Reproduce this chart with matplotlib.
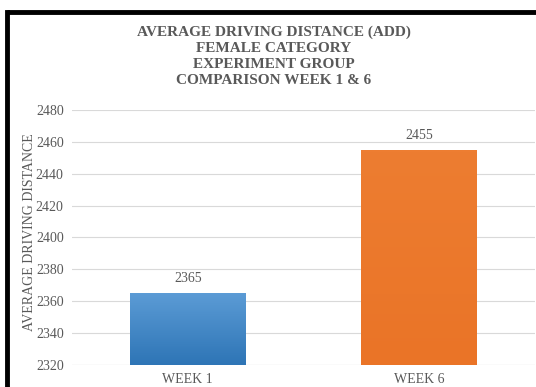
import matplotlib
matplotlib.use("Agg")
import matplotlib.pyplot as plt
import numpy as np
from matplotlib.lines import Line2D
from matplotlib.colors import LinearSegmentedColormap

categories = ["WEEK 1", "WEEK 6"]
values = [2365, 2455]
bar_colors = ["#4A8DD0", "#ED7D31"]
bar_gradients = [("#2E75B6", "#5B9BD5"), ("#EA7427", "#ED7D31")]
y_ticks = [2320, 2340, 2360, 2380, 2400, 2420, 2440, 2460, 2480]

title = ("AVERAGE DRIVING DISTANCE (ADD)\nFEMALE CATEGORY\n"
         "EXPERIMENT GROUP\nCOMPARISON WEEK 1 & 6")
ylabel = "AVERAGE DRIVING DISTANCE"

plt.rcParams["font.family"] = ["Liberation Serif", "DejaVu Serif"]
text_grey = "#595959"
fs = 10

W, H = 536, 387
fig = plt.figure(figsize=(W / 100, H / 100), dpi=100)
fig.patch.set_facecolor("white")

# plot area in pixel coordinates
left, right, top, bottom = 72, 535, 110, 365
ax = fig.add_axes([left / W, 1 - bottom / H, (right - left) / W, (bottom - top) / H])

x = np.arange(len(categories))
bars = ax.bar(x, [v - y_ticks[0] for v in values], bottom=y_ticks[0], width=0.5,
              color=bar_colors, zorder=3)

# vertical shading inside each bar, clipped to the bar outline
ramp = np.linspace(0, 1, 64).reshape(-1, 1)
for patch, (c0, c1) in zip(bars, bar_gradients):
    cmap = LinearSegmentedColormap.from_list("shade", [c0, c1])
    bx, by = patch.get_x(), patch.get_y()
    im = ax.imshow(ramp, cmap=cmap, origin="lower", aspect="auto",
                   extent=(bx, bx + patch.get_width(), by, by + patch.get_height()),
                   zorder=4)
    im.set_clip_path(patch)

for xi, v in zip(x, values):
    ax.text(xi, v + 5, f"{v}", ha="center", va="bottom", fontsize=fs, color=text_grey,
            zorder=5)

ax.set_xlim(-0.5, len(categories) - 0.5)
ax.set_ylim(y_ticks[0], y_ticks[-1])
ax.set_yticks(y_ticks)
ax.set_yticklabels([str(t) for t in y_ticks], fontsize=fs, color=text_grey)
ax.set_xticks(list(x))
ax.set_xticklabels(categories, fontsize=fs, color=text_grey)
ax.tick_params(axis="y", length=0, pad=6)
ax.tick_params(axis="x", length=0, pad=6)
ax.grid(axis="y", color="#D9D9D9", linewidth=0.8, zorder=0)
for s in ax.spines.values():
    s.set_visible(False)
ax.axhline(y_ticks[0], color="#D9D9D9", linewidth=0.8, zorder=2)

ax.set_ylabel(ylabel, fontsize=10, color=text_grey)
ax.yaxis.set_label_coords((36 - left) / (right - left), (bottom - 232) / (bottom - top))

fig.text(274 / W, 1 - 56 / H, title, ha="center", va="center", fontsize=11,
         fontweight="bold", color=text_grey, linespacing=1.3)

# black frame along the top and left edges
fig.add_artist(Line2D([7 / W, 1], [1 - 12 / H, 1 - 12 / H], color="black",
                      linewidth=3.5, transform=fig.transFigure, solid_capstyle="butt"))
fig.add_artist(Line2D([7 / W, 7 / W], [0, 1 - 12 / H], color="black",
                      linewidth=3.5, transform=fig.transFigure, solid_capstyle="projecting"))

fig.savefig("out.png", dpi=100, facecolor="white")
